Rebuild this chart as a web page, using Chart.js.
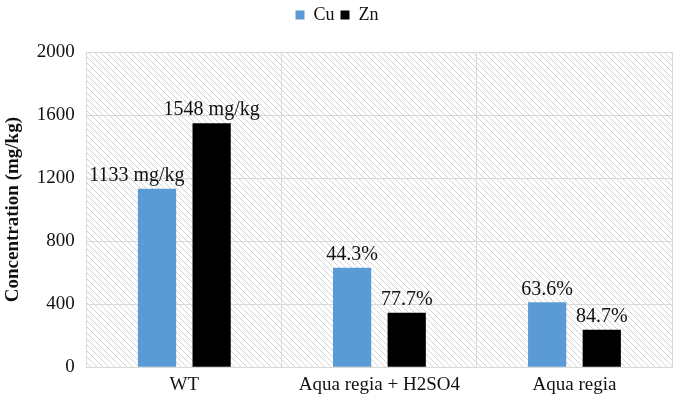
<!DOCTYPE html>
<html lang="en">
  <head>
    <meta charset="UTF-8" />
    <title>Concentration</title>
    <script src="https://cdn.jsdelivr.net/npm/chart.js"></script>
    <style>
      body { margin: 0; background: #fff; }
      #wrap { width: 675px; height: 405px; }
    </style>
  </head>
  <body>
    <div id="wrap">
      <canvas id="c"></canvas>
    </div>
    <script>
      const categories = ["WT", "Aqua regia + H2SO4", "Aqua regia"];
      const cuValues = [1133, 631, 412];
      const znValues = [1548, 345, 237];
      const cuLabels = ["1133 mg/kg", "44.3%", "63.6%"];
      const znLabels = ["1548 mg/kg", "77.7%", "84.7%"];
      const yTicks = [0, 400, 800, 1200, 1600, 2000];

      const serif = "'Liberation Serif', 'Times New Roman', serif";

      // diagonal hatch behind the plot
      const hatch = {
        id: "hatch",
        beforeDraw(chart) {
          const { ctx, chartArea: a } = chart;
          const p = document.createElement("canvas");
          p.width = 6;
          p.height = 6;
          const pc = p.getContext("2d");
          pc.strokeStyle = "#d4d4d4";
          pc.lineWidth = 1;
          pc.beginPath();
          pc.moveTo(0, 0); pc.lineTo(6, 6);
          pc.moveTo(-3, 3); pc.lineTo(3, 9);
          pc.moveTo(3, -3); pc.lineTo(9, 3);
          pc.stroke();
          ctx.save();
          ctx.fillStyle = ctx.createPattern(p, "repeat");
          ctx.fillRect(a.left, a.top, a.right - a.left, a.bottom - a.top);
          ctx.restore();
        },
      };

      // extra space under the legend
      const legendGap = {
        id: "legendGap",
        afterInit(chart) {
          const fit = chart.legend.fit;
          chart.legend.fit = function () {
            fit.call(this);
            this.height += 18;
          };
        },
      };

      // value labels; a label that would run into the next bar is pushed left
      const barLabels = {
        id: "barLabels",
        afterDatasetsDraw(chart) {
          const { ctx } = chart;
          const texts = [cuLabels, znLabels];
          const zn = chart.getDatasetMeta(1).data;
          ctx.save();
          ctx.font = "20px " + serif;
          ctx.fillStyle = "#111";
          ctx.textAlign = "center";
          ctx.textBaseline = "bottom";
          chart.data.datasets.forEach((ds, di) => {
            chart.getDatasetMeta(di).data.forEach((bar, i) => {
              const t = texts[di][i];
              let x = bar.x;
              const half = ctx.measureText(t).width / 2;
              if (di === 0 && zn[i].y < bar.y) {
                const limit = zn[i].x - zn[i].width / 2 - 8;
                if (x + half > limit) x = limit - half;
              }
              ctx.fillText(t, x, bar.y - 3);
            });
          });
          ctx.restore();
        },
      };

      new Chart(document.getElementById("c"), {
        type: "bar",
        data: {
          labels: categories,
          datasets: [
            { label: "Cu", data: cuValues, backgroundColor: "#5b9bd5" },
            { label: "Zn", data: znValues, backgroundColor: "#000000" },
          ],
        },
        options: {
          responsive: true,
          maintainAspectRatio: false,
          animation: false,
          categoryPercentage: 0.56,
          barPercentage: 0.7,
          layout: { padding: { left: 2, right: 3, top: 0, bottom: 3 } },
          plugins: {
            legend: {
              position: "top",
              labels: {
                font: { family: serif, size: 18 },
                color: "#111",
                boxWidth: 9,
                boxHeight: 9,
                padding: 6,
              },
            },
            tooltip: { enabled: false },
          },
          scales: {
            x: {
              grid: { color: "#d9d9d9", drawTicks: false },
              border: { color: "#d9d9d9" },
              ticks: {
                font: { family: serif, size: 19 },
                color: "#111",
                padding: 6,
              },
            },
            y: {
              min: 0,
              max: 2000,
              afterBuildTicks(axis) {
                axis.ticks = yTicks.map((v) => ({ value: v }));
              },
              grid: { color: "#d9d9d9", drawTicks: false },
              border: { color: "#d9d9d9" },
              ticks: {
                font: { family: serif, size: 19 },
                color: "#111",
                padding: 12,
                callback: (v) => String(v),
              },
              title: {
                display: true,
                text: "Concentration (mg/kg)",
                font: { family: serif, size: 19, weight: "bold" },
                color: "#111",
                padding: 0,
              },
            },
          },
        },
        plugins: [hatch, legendGap, barLabels],
      });
    </script>
  </body>
</html>
